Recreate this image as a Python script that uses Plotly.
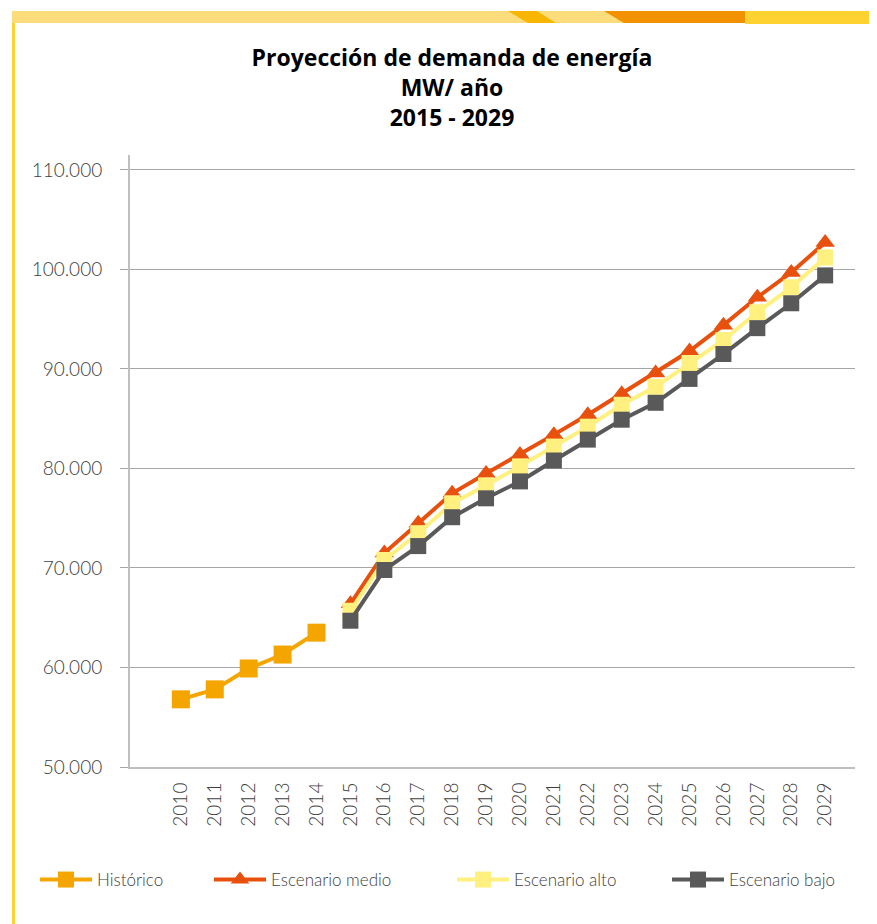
import plotly.graph_objects as go

# data
anos_hist = [2010, 2011, 2012, 2013, 2014]
historico = [56800, 57800, 59900, 61300, 63500]

anos_proy = [2015, 2016, 2017, 2018, 2019, 2020, 2021, 2022,
             2023, 2024, 2025, 2026, 2027, 2028, 2029]
medio = [66400, 71500, 74500, 77500, 79500, 81400, 83400, 85400,
         87500, 89600, 91800, 94400, 97200, 99700, 102700]
alto = [65700, 70800, 73500, 76500, 78300, 80200, 82200, 84200,
        86400, 88200, 90600, 92900, 95700, 98200, 101200]
bajo = [64700, 69800, 72200, 75100, 77000, 78700, 80800, 82900,
        84900, 86600, 89000, 91500, 94100, 96600, 99400]

anos_ticks = anos_hist + anos_proy
y_ticks = [50000, 60000, 70000, 80000, 90000, 100000, 110000]

FONT = "Lato"
OFF = 8  # page body margin
W, H = 877 - OFF, 924 - OFF
L, T = 130 - OFF, 155 - OFF
R, B = W - (855 - OFF), H - (767 - OFF)
PW, PH = W - L - R, H - T - B


# screen pixel -> paper / container fractions
def px(x):
	return (x - OFF - L) / PW


def py(y):
	return (H - B - (y - OFF)) / PH


def cx(x):
	return (x - OFF) / W


def cy(y):
	return 1 - (y - OFF) / H


fig = go.Figure()

fig.add_trace(go.Scatter(
	x=anos_hist, y=historico, name="Histórico", mode="lines+markers",
	line=dict(color="#F5A500", width=4),
	marker=dict(symbol="square", size=18, color="#F5A500"),
	legend="legend"
))
fig.add_trace(go.Scatter(
	x=anos_proy, y=medio, name="Escenario medio", mode="lines+markers",
	line=dict(color="#E8500E", width=4),
	marker=dict(symbol="triangle-up", size=17, color="#E8500E"),
	legend="legend2"
))
fig.add_trace(go.Scatter(
	x=anos_proy, y=alto, name="Escenario alto", mode="lines+markers",
	line=dict(color="#FFF080", width=4),
	marker=dict(symbol="square", size=16, color="#FFF080"),
	legend="legend3"
))
fig.add_trace(go.Scatter(
	x=anos_proy, y=bajo, name="Escenario bajo", mode="lines+markers",
	line=dict(color="#595959", width=4),
	marker=dict(symbol="square", size=16, color="#595959"),
	legend="legend4"
))


def para(x0, x1, x2, x3, color):
	# x0,x1 top edge; x2,x3 bottom edge
	return dict(
		type="path", xref="paper", yref="paper",
		path="M %f,%f L %f,%f L %f,%f L %f,%f Z" % (
			px(x0), py(11), px(x1), py(11), px(x2), py(23), px(x3), py(23)),
		fillcolor=color, line=dict(width=0))


# decorative header band and left rule
shapes = [
	dict(type="rect", xref="paper", yref="paper",
		x0=px(12), x1=px(877), y0=py(11), y1=py(23),
		fillcolor="#FDDC7C", line=dict(width=0)),
	para(508, 537, 556, 528, "#F8B600"),
	para(604, 745, 745, 624, "#F39200"),
	dict(type="rect", xref="paper", yref="paper",
		x0=px(745), x1=px(877), y0=py(11), y1=py(24),
		fillcolor="#FDD231", line=dict(width=0)),
	dict(type="rect", xref="paper", yref="paper",
		x0=px(12), x1=px(15), y0=py(23), y1=py(924),
		fillcolor="#FDD231", line=dict(width=0)),
]


def leg(x):
	return dict(
		visible=True,
		orientation="h", xref="container", yref="container",
		x=cx(x - 5), y=cy(880), xanchor="left", yanchor="middle",
		itemwidth=52, bgcolor="rgba(0,0,0,0)",
		font=dict(family=FONT, size=17, weight=300, color="#404040")
	)


fig.update_layout(
	width=W, height=H,
	margin=dict(l=L, r=R, t=T, b=B),
	paper_bgcolor="white", plot_bgcolor="white",
	separators=",.",
	showlegend=True,
	font=dict(family=FONT, color="#404040"),
	title=dict(
		text="<b>Proyección de demanda de energía<br>MW/ año<br>2015 - 2029</b>",
		x=cx(452), xanchor="center", xref="container",
		y=cy(66), yanchor="top", yref="container",
		font=dict(family="Open Sans", size=23, color="black")
	),
	xaxis=dict(
		range=[2008.5, 2029.88], tickvals=anos_ticks,
		ticktext=[str(a) for a in anos_ticks], tickangle=-90,
		showgrid=False, zeroline=False, showline=True,
		linecolor="#BFBFBF", linewidth=2, ticks="",
		ticklabelstandoff=6,
		tickfont=dict(family=FONT, size=19, weight=300, color="#404040")
	),
	yaxis=dict(
		range=[50000, 111500], tickvals=y_ticks, tickformat=",d",
		showgrid=True, gridcolor="#A6A6A6", gridwidth=1,
		zeroline=False, showline=True, linecolor="#BFBFBF", linewidth=2,
		ticks="outside", ticklen=8, tickcolor="#A6A6A6",
		ticklabelstandoff=14,
		tickfont=dict(family=FONT, size=19, weight=300, color="#404040")
	),
	legend=leg(40),
	legend2=leg(214),
	legend3=leg(457),
	legend4=leg(672),
	shapes=shapes,
)

fig.write_html("out.html")
